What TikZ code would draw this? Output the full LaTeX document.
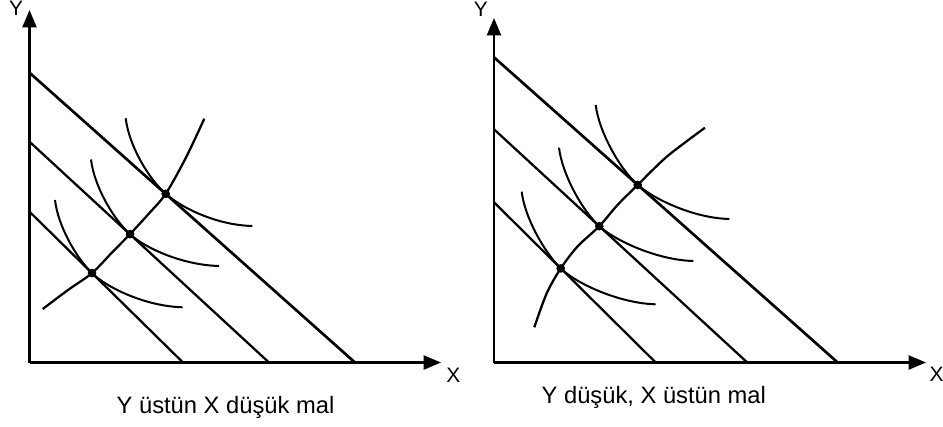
\documentclass[tikz,border=0pt]{standalone}
\usepackage{fontspec}
\setmainfont{Liberation Sans}
\usetikzlibrary{arrows.meta}
\begin{document}
\begin{tikzpicture}[x=0.75pt,y=-0.75pt,
  axis/.style={line width=1.6pt,-{Triangle[length=13pt,width=10.5pt]}},
  budget/.style={line width=1.7pt},
  budgettop/.style={line width=2pt},
  icurve/.style={line width=1.5pt},
  expansion/.style={line width=1.7pt},
  dot/.style={circle,fill=black,inner sep=0pt,minimum size=6.5pt},
  axlabel/.style={font=\fontsize{15.7pt}{18pt}\selectfont,inner sep=0pt},
  caption/.style={font=\fontsize{17.8pt}{21pt}\selectfont,inner sep=0pt,anchor=base}]
\useasboundingbox (0,0) rectangle (943,426);
% ---------- left panel ----------
\coordinate (oL) at (29.5,362.5);
\coordinate (yL) at (29.5,10);
\coordinate (xL) at (441,362.5);
\coordinate (a1L) at (29.5,72.7);  \coordinate (b1L) at (355,362.5);
\coordinate (a2L) at (29.5,141.7); \coordinate (b2L) at (269,362.5);
\coordinate (a3L) at (29.5,211.7); \coordinate (b3L) at (183,362.5);
\coordinate (P1L) at (165.7,193.8);
\coordinate (P2L) at (130,234.15);
\coordinate (P3L) at (92,273.1);
\coordinate (s1L) at (125.7,118.3); \coordinate (e1L) at (252.3,226);
\coordinate (s2L) at (91,159.5);    \coordinate (e2L) at (219,266);
\coordinate (s3L) at (55,200);      \coordinate (e3L) at (182.7,307.3);
\coordinate (gsL) at (42.7,309);    \coordinate (geL) at (204.3,118.7);
\coordinate (m1L) at (68,290);      \coordinate (m2L) at (112,252.5);
\coordinate (m3L) at (148.5,214);   \coordinate (m4L) at (186,157.5);
\draw[axis] (oL) -- (yL);
\draw[axis] (oL) -- (xL);
\draw[budgettop] (a1L) -- (b1L);
\draw[budget] (a2L) -- (b2L);
\draw[budget] (a3L) -- (b3L);
\draw[icurve] (s1L) .. controls +(3.3,27) and +(-17.7,-15.7) .. (P1L)
  .. controls +(15,13.3) and +(-37,-1) .. (e1L);
\draw[icurve] (s2L) .. controls +(3.3,27) and +(-17,-15.6) .. (P2L)
  .. controls +(15,13.8) and +(-37,-1) .. (e2L);
\draw[icurve] (s3L) .. controls +(3,26) and +(-16,-15.7) .. (P3L)
  .. controls +(15,14.7) and +(-37,-1) .. (e3L);
\draw[expansion] plot[smooth] coordinates {(gsL) (m1L) (P3L) (m2L) (P2L) (m3L) (P1L) (m4L) (geL)};
\node[dot] (d1L) at (P1L) {};
\node[dot] (d2L) at (P2L) {};
\node[dot] (d3L) at (P3L) {};
\node[axlabel] (lyL) at (16,8) {Y};
\node[axlabel] (lxL) at (453.3,375.2) {X};
\node[caption] (capL) at (225.5,413.3) {Y üstün X düşük mal};
% ---------- right panel ----------
\coordinate (oR) at (494,362.5);
\coordinate (yR) at (494,18);
\coordinate (xR) at (926,362.5);
\coordinate (a1R) at (494,57.3);  \coordinate (b1R) at (837.7,362.5);
\coordinate (a2R) at (494,129.3); \coordinate (b2R) at (747.3,362.5);
\coordinate (a3R) at (494,202.3); \coordinate (b3R) at (655.7,362.5);
\coordinate (P1R) at (637.7,184.9);
\coordinate (P2R) at (599.3,226.2);
\coordinate (P3R) at (560.7,268.4);
\coordinate (s1R) at (595.7,105);   \coordinate (e1R) at (729.3,219);
\coordinate (s2R) at (559,147.7);   \coordinate (e2R) at (693.3,261);
\coordinate (s3R) at (521.7,191.7); \coordinate (e3R) at (655.7,304.3);
\coordinate (gsR) at (534.3,327.3); \coordinate (geR) at (705,127.7);
\coordinate (m1R) at (546.7,293.3); \coordinate (m2R) at (577.5,246.5);
\coordinate (m3R) at (617.5,205);   \coordinate (m4R) at (667,156.5);
\draw[axis] (oR) -- (yR);
\draw[axis] (oR) -- (xR);
\draw[budgettop] (a1R) -- (b1R);
\draw[budget] (a2R) -- (b2R);
\draw[budget] (a3R) -- (b3R);
\draw[icurve] (s1R) .. controls +(3.3,27) and +(-17.7,-15.7) .. (P1R)
  .. controls +(15,13.3) and +(-37,-1) .. (e1R);
\draw[icurve] (s2R) .. controls +(3.3,27) and +(-17,-15.6) .. (P2R)
  .. controls +(15,13.8) and +(-37,-1) .. (e2R);
\draw[icurve] (s3R) .. controls +(3,26) and +(-16,-15.7) .. (P3R)
  .. controls +(15,14.7) and +(-37,-1) .. (e3R);
\draw[expansion] plot[smooth] coordinates {(gsR) (m1R) (P3R) (m2R) (P2R) (m3R) (P1R) (m4R) (geR)};
\node[dot] (d1R) at (P1R) {};
\node[dot] (d2R) at (P2R) {};
\node[dot] (d3R) at (P3R) {};
\node[axlabel] (lyR) at (480.8,9) {Y};
\node[axlabel] (lxR) at (936.7,374.3) {X};
\node[caption] (capR) at (653.8,403.3) {Y düşük, X üstün mal};
\end{tikzpicture}
\end{document}
